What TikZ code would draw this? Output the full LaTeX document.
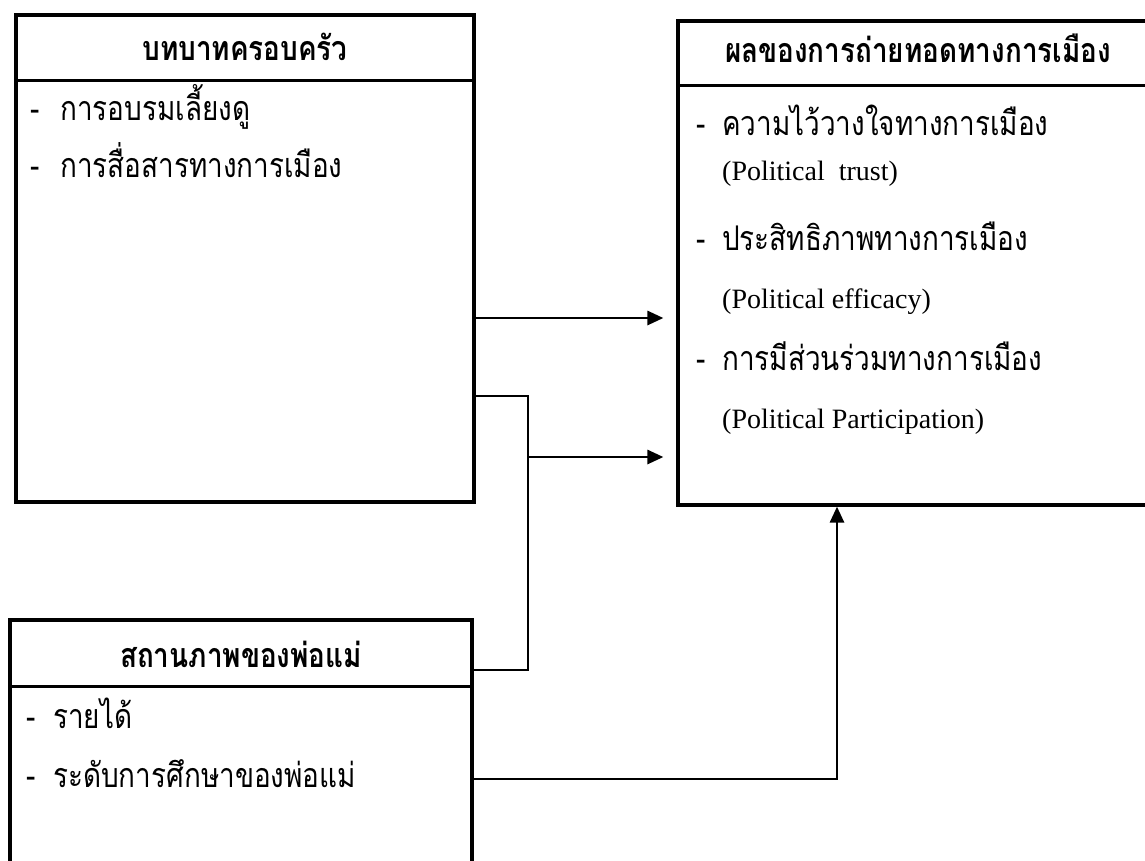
\documentclass[tikz,border=0pt]{standalone}
\usepackage{fontspec}
\setmainfont{Liberation Serif}
\newfontfamily\thai[Script=Thai,FakeStretch=0.82]{Loma}
\usetikzlibrary{arrows.meta}
\tikzset{
  box/.style={draw, line width=3.2pt, inner sep=0pt},
  hline/.style={line width=3pt},
  conn/.style={line width=2.8pt},
  arr/.style={conn, -{Triangle[length=16pt,width=14pt]}},
  head/.style={font=\thai\bfseries\fontsize{34}{40}\selectfont, inner sep=0pt, anchor=base},
  item/.style={font=\thai\fontsize{34}{40}\selectfont, inner sep=0pt, anchor=base west},
  eng/.style={font=\fontsize{28}{32}\selectfont, inner sep=0pt, anchor=base west},
}
\begin{document}
\begin{tikzpicture}[x=1pt,y=-1pt]
\useasboundingbox (0,0) rectangle (1145,860);
% boxes
\node[box, minimum width=458pt, minimum height=487pt] (fam) at (245,258.5) {};
\node[box, minimum width=482pt, minimum height=484pt] (res) at (919,263) {};
\node[box, minimum width=462pt, minimum height=260pt] (par) at (241,750) {};
% header separators
\coordinate (h1) at (0,80);
\coordinate (h2) at (0,85);
\coordinate (h3) at (0,686);
\draw[hline] (fam.west |- h1) -- (fam.east |- h1);
\draw[hline] (res.west |- h2) -- (res.east |- h2);
\draw[hline] (par.west |- h3) -- (par.east |- h3);
% family box text
\node[head] (famh) at (245,60) {บทบาทครอบครัว};
\node[item] (famd1) at (30,120) {-};
\node[item] (fam1) at (60,120) {การอบรมเลี้ยงดู};
\node[item] (famd2) at (30,177) {-};
\node[item] (fam2) at (60,177) {การสื่อสารทางการเมือง};
% result box text
\node[head] (resh) at (918,62) {ผลของการถ่ายทอดทางการเมือง};
\node[item] (resd1) at (696,135) {-};
\node[item] (res1) at (722,135) {ความไว้วางใจทางการเมือง};
\node[eng] (res1e) at (722,180) {(Political\ \ trust)};
\node[item] (resd2) at (696,250) {-};
\node[item] (res2) at (722,250) {ประสิทธิภาพทางการเมือง};
\node[eng] (res2e) at (722,308) {(Political efficacy)};
\node[item] (resd3) at (696,370) {-};
\node[item] (res3) at (722,370) {การมีส่วนร่วมทางการเมือง};
\node[eng] (res3e) at (722,428) {(Political Participation)};
% parent box text
\node[head] (parh) at (241,667) {สถานภาพของพ่อแม่};
\node[item] (pard1) at (26,728) {-};
\node[item] (par1) at (53,728) {รายได้};
\node[item] (pard2) at (26,787) {-};
\node[item] (par2) at (53,787) {ระดับการศึกษาของพ่อแม่};
% connectors
\coordinate (y1) at (0,318);
\coordinate (y2) at (0,396);
\coordinate (y3) at (0,457);
\coordinate (y4) at (0,670);
\coordinate (y5) at (0,779);
\coordinate (jx) at (528,0);
\coordinate (ax) at (837,0);
\draw[arr, shorten >=13pt] (fam.east |- y1) -- (res.west |- y1);
\draw[conn] (fam.east |- y2) -| (jx |- y4) -- (par.east |- y4);
\draw[arr, shorten >=13pt] (jx |- y3) -- (res.west |- y3);
\draw[arr] (par.east |- y5) -| (res.south -| ax);
\end{tikzpicture}
\end{document}
